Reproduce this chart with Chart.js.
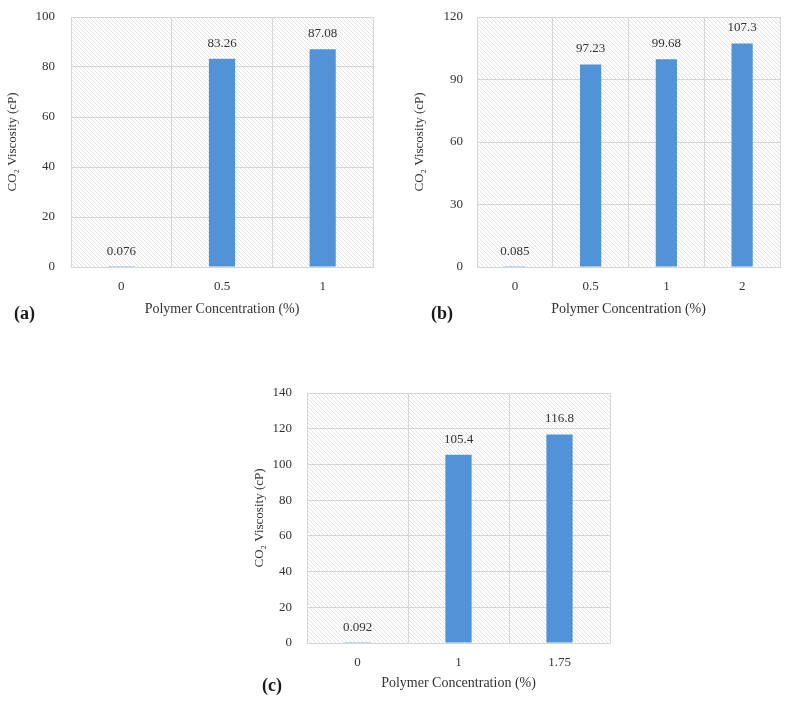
<!DOCTYPE html>
<html><head><meta charset="utf-8">
<script src="https://cdn.jsdelivr.net/npm/chart.js@4"></script>
<style>
html,body{margin:0;padding:0;background:#fff}
body{width:789px;height:701px;position:relative;overflow:hidden;font-family:"Liberation Serif","Times New Roman",serif}
.box{position:absolute}
.lab{position:absolute;font-weight:bold;font-size:18px;color:#1a1a1a;line-height:20px}
</style></head><body>
<div class="box" style="left:0px;top:0px;width:380px;height:321px"><canvas id="ca"></canvas></div>
<div class="box" style="left:405px;top:0px;width:380px;height:321px"><canvas id="cb"></canvas></div>
<div class="box" style="left:245px;top:376px;width:380px;height:319px"><canvas id="cc"></canvas></div>
<div class="lab" style="left:14px;top:303px">(a)</div>
<div class="lab" style="left:431px;top:303px">(b)</div>
<div class="lab" style="left:262px;top:675px">(c)</div>
<script>
// ---- data ----
const catsA = ['0', '0.5', '1'];
const valsA = [0.076, 83.26, 87.08];
const catsB = ['0', '0.5', '1', '2'];
const valsB = [0.085, 97.23, 99.68, 107.3];
const catsC = ['0', '1', '1.75'];
const valsC = [0.092, 105.4, 116.8];
const yMaxA = 100, yStepA = 20;
const yMaxB = 120, yStepB = 30;
const yMaxC = 140, yStepC = 20;
const xTitle = 'Polymer Concentration (%)';
const yTitle = 'CO\u2082 Viscosity (cP)';

const FONT = '"Liberation Serif","Times New Roman",serif';
const GRID = '#d6d6d6';
const TXT = '#333333';
const BAR = '#5193d6';

function hatch() {
  const s = 4;
  const c = document.createElement('canvas');
  c.width = s; c.height = s;
  const g = c.getContext('2d');
  g.fillStyle = '#ffffff'; g.fillRect(0, 0, s, s);
  g.strokeStyle = '#e3e3e3'; g.lineWidth = 1;
  for (let k = -1; k <= 1; k++) {
    g.beginPath(); g.moveTo(0, k * s); g.lineTo(s, k * s + s); g.stroke();
  }
  return c;
}
const hatchCanvas = hatch();

const bgPlugin = {
  id: 'hatchbg',
  beforeDraw(chart) {
    const {ctx, chartArea: a} = chart;
    ctx.save();
    ctx.fillStyle = ctx.createPattern(hatchCanvas, 'repeat');
    ctx.fillRect(a.left, a.top, a.right - a.left, a.bottom - a.top);
    ctx.restore();
  }
};
const labelPlugin = {
  id: 'vlabels',
  afterDatasetsDraw(chart) {
    const {ctx} = chart;
    const ds = chart.data.datasets[0];
    const meta = chart.getDatasetMeta(0);
    ctx.save();
    ctx.font = '13px ' + FONT;
    ctx.fillStyle = TXT;
    ctx.textAlign = 'center';
    ctx.textBaseline = 'bottom';
    meta.data.forEach((el, i) => {
      ctx.fillText(String(ds.data[i]), el.x, el.y - 9);
    });
    ctx.restore();
  }
};

function makeChart(id, cats, vals, yMax, yStep, o) {
  return new Chart(document.getElementById(id), {
    type: 'bar',
    data: {labels: cats, datasets: [{data: vals, backgroundColor: BAR, borderWidth: 0,
      categoryPercentage: 1, barPercentage: o.barPct}]},
    options: {
      responsive: true, maintainAspectRatio: false, animation: false,
      layout: {padding: o.pad},
      plugins: {legend: {display: false}, tooltip: {enabled: false}},
      scales: {
        x: {
          grid: {color: GRID, offset: true, drawTicks: false, lineWidth: 1},
          border: {color: GRID},
          ticks: {color: TXT, font: {family: FONT, size: 13}, padding: 12},
          title: {display: true, text: xTitle, color: TXT, font: {family: FONT, size: 14}, padding: {top: 2, bottom: 3}},
          afterFit(s) { s.height = o.xH; }
        },
        y: {
          min: 0, max: yMax,
          grid: {color: GRID, drawTicks: true, tickLength: o.yTickGap, tickColor: 'rgba(0,0,0,0)', lineWidth: 1},
          border: {color: GRID},
          ticks: {stepSize: yStep, color: TXT, font: {family: FONT, size: 13}, padding: 0},
          title: {display: true, text: yTitle, color: TXT, font: {family: FONT, size: 13}, padding: {top: o.yTitlePad, bottom: 2}},
          afterFit(s) { s.width = o.yW; }
        }
      }
    },
    plugins: [bgPlugin, labelPlugin]
  });
}

makeChart('ca', catsA, valsA, yMaxA, yStepA, {barPct: 0.26, pad: {top: 17, right: 7, left: 0, bottom: 0}, yW: 71, xH: 54, yTickGap: 16, yTitlePad: 5});
makeChart('cb', catsB, valsB, yMaxB, yStepB, {barPct: 0.28, pad: {top: 17, right: 5, left: 0, bottom: 0}, yW: 72, xH: 54, yTickGap: 14, yTitlePad: 7});
makeChart('cc', catsC, valsC, yMaxC, yStepC, {barPct: 0.26, pad: {top: 17, right: 15, left: 0, bottom: 0}, yW: 62, xH: 52, yTickGap: 15, yTitlePad: 7});
</script>
</body></html>
